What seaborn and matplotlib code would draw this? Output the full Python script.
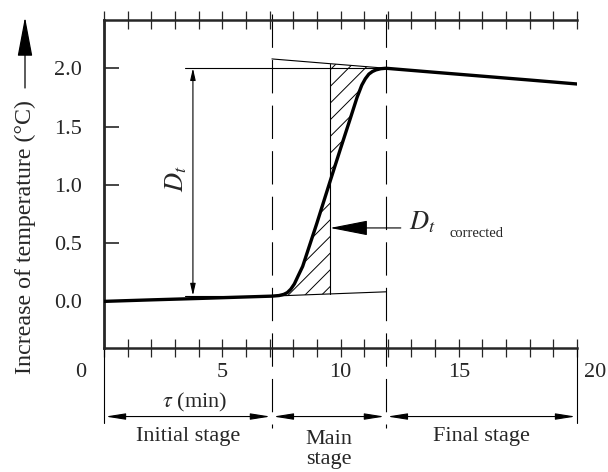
import numpy as np
import matplotlib.pyplot as plt
import seaborn as sns
import pandas as pd

# temperature rise curve
time_min = [0, 2, 4, 6, 7.1, 7.4, 7.6, 7.75, 7.9, 8.05, 8.2, 8.4, 9.0, 9.56, 10.0,
            10.4, 10.7, 10.9, 11.05, 11.2, 11.35, 11.5, 11.7, 11.92, 14, 16, 18, 20]
temp_rise = [0.0, 0.013, 0.025, 0.038, 0.045, 0.05, 0.06, 0.075, 0.105, 0.15, 0.215,
             0.30, 0.67, 1.03, 1.31, 1.56, 1.75, 1.855, 1.91, 1.95, 1.972, 1.986,
             1.996, 2.0, 1.965, 1.932, 1.899, 1.865]

# stage boundaries (min) and names
stage_edges = [0, 7.1, 11.92, 20]
stage_names = ['Initial stage', 'Main\nstage', 'Final stage']

# extrapolated initial / final lines across the main stage
extrap_x = [7.1, 11.92]
base_line = [0.045, 0.082]
top_line = [2.08, 2.0]
t_corr = 9.56          # vertical line of the corrected rise
dt_levels = [0.05, 2.0]
dt_x = [3.42, 3.76]    # start of reference lines, position of D_t arrow
corr_arrow_y = 0.63

xtick_vals = [0, 5, 10, 15, 20]
ytick_vals = [0.0, 0.5, 1.0, 1.5, 2.0]

df = pd.DataFrame({'t': time_min, 'T': temp_rise})

sns.set_style('ticks')
plt.rcParams['font.family'] = ['Liberation Serif', 'DejaVu Serif']
plt.rcParams['mathtext.fontset'] = 'stix'
plt.rcParams['hatch.linewidth'] = 0.7

fig = plt.figure(figsize=(6.08, 4.72), dpi=100)
ax = fig.add_axes([104 / 608, 1 - 348 / 472, 473 / 608, 328 / 472])

sns.lineplot(data=df, x='t', y='T', color='black', lw=2.4, ax=ax, zorder=5)

# hatched areas
xs_lo = np.linspace(stage_edges[1], t_corr, 80)
lo_base = np.interp(xs_lo, extrap_x, base_line)
lo_curve = np.maximum(np.interp(xs_lo, time_min, temp_rise), lo_base)
ax.fill_between(xs_lo, lo_base, lo_curve, facecolor='none', edgecolor='black',
                hatch='//', linewidth=0)
xs_hi = np.linspace(t_corr, stage_edges[2], 80)
hi_top = np.interp(xs_hi, extrap_x, top_line)
hi_curve = np.interp(xs_hi, time_min, temp_rise)
ax.fill_between(xs_hi, hi_curve, hi_top, facecolor='none', edgecolor='black',
                hatch='//', linewidth=0)

thin = dict(color='black', lw=0.8)
ax.plot(extrap_x, base_line, **thin)
ax.plot(extrap_x, top_line, **thin)
ax.plot([t_corr, t_corr], [np.interp(t_corr, extrap_x, base_line),
                           np.interp(t_corr, extrap_x, top_line)], **thin)
ax.plot([dt_x[0], stage_edges[2]], [dt_levels[1]] * 2, **thin)
ax.plot([dt_x[0], stage_edges[1]], [dt_levels[0]] * 2, **thin)

# D_t dimension arrow
ax.annotate('', xy=(dt_x[1], dt_levels[1]), xytext=(dt_x[1], dt_levels[0]),
            arrowprops=dict(arrowstyle='<|-|>,head_length=7,head_width=1.6',
                            mutation_scale=1, color='black', lw=0.8,
                            shrinkA=0, shrinkB=0))
ax.text(dt_x[1] - 0.7, 1.05, '$D_t$', rotation=90, fontsize=19,
        ha='center', va='center')

# D_t corrected arrow
ax.annotate('', xy=(t_corr, corr_arrow_y), xytext=(12.55, corr_arrow_y),
            arrowprops=dict(arrowstyle='-|>,head_length=24,head_width=4.7',
                            mutation_scale=1, color='black', lw=0.8,
                            shrinkA=0, shrinkB=0))
ax.text(12.9, 0.68, '$D_t$', fontsize=19, ha='left', va='center')
ax.text(14.6, 0.58, 'corrected', fontsize=10.5, ha='left', va='center')

# stage boundary lines
y_top_ext, y_dash_low, y_solid_low = 2.465, -1.085, -1.04
for xb in stage_edges[1:3]:
    ax.plot([xb, xb], [y_top_ext, y_dash_low], color='black', lw=0.8,
            dashes=(30, 11), clip_on=False, zorder=1)
for xb in (stage_edges[0], stage_edges[3]):
    ax.plot([xb, xb], [-0.40, y_solid_low], color='black', lw=0.8, clip_on=False)

# stage arrows and names
y_arrow = -0.988
for i, name in enumerate(stage_names):
    ax.annotate('', xy=(stage_edges[i], y_arrow), xytext=(stage_edges[i + 1], y_arrow),
                annotation_clip=False,
                arrowprops=dict(arrowstyle='<|-|>,head_length=12,head_width=1.9',
                                mutation_scale=1, color='black', lw=0.8,
                                shrinkA=1, shrinkB=1))
    mid = (stage_edges[i] + stage_edges[i + 1]) / 2
    ax.text(mid, -1.27 if '\n' in name else -1.16, name, fontsize=16,
            ha='center', va='center', linespacing=1.1, clip_on=False)

# axes styling
ax.set_xlim(0, 20)
ax.set_ylim(-0.40, 2.414)
ax.set_xlabel('')
ax.set_ylabel('')
ax.spines['right'].set_visible(False)
for s in ('left', 'top', 'bottom'):
    ax.spines[s].set_linewidth(1.8)
ax.spines['left'].set_linewidth(2.0)
ax.set_xticks(np.arange(0, 21, 1))
ax.set_xticklabels([])
ax.tick_params(axis='x', which='both', direction='inout', length=13, width=0.9,
               top=True, bottom=True)
ax.set_yticks(ytick_vals)
ax.set_yticklabels([f'{v:.1f}' for v in ytick_vals], fontsize=16)
ax.tick_params(axis='y', direction='in', length=10.5, width=1.2, pad=16)

# x tick labels
for v in xtick_vals:
    dx = -1.0 if v == 0 else (0.75 if v == 20 else 0)
    ax.text(v + dx, -0.611, str(v), fontsize=16, ha='center', va='center')
ax.text(3.83, -0.868, r'$\tau$ (min)', fontsize=16, ha='center', va='center')

# y label with arrow
fig.text(25 / 608, 1 - 237 / 472, 'Increase of temperature (°C)', rotation=90,
         fontsize=17.3, ha='center', va='center')
ax.annotate('', xy=(25, 472 - 17), xytext=(25, 472 - 88), xycoords='figure pixels',
            textcoords='figure pixels',
            arrowprops=dict(arrowstyle='-|>,head_length=25,head_width=4.7',
                            mutation_scale=1, color='black', lw=0.9,
                            shrinkA=0, shrinkB=0))

fig.savefig('out.png', dpi=100)
